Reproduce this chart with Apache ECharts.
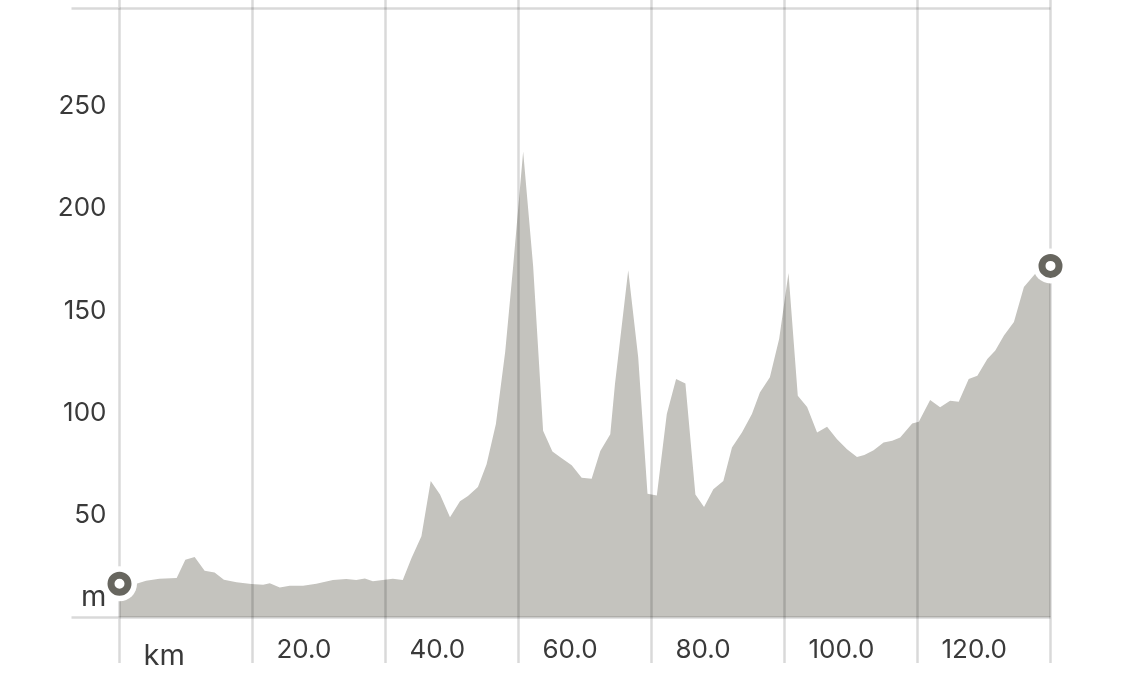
<!DOCTYPE html>
<html>
<head>
<meta charset="utf-8">
<script src="https://cdn.jsdelivr.net/npm/echarts@6/dist/echarts.min.js"></script>
<style>
  html, body { margin: 0; padding: 0; background: #ffffff; overflow: hidden; }
  #chart { width: 1125px; height: 692px; }
</style>
</head>
<body>
<div id="chart"></div>
<script>
// Distance along route (km)
const distanceKm = [0, 2.3, 4.0, 6.0, 8.6, 9.9, 11.3, 12.8, 14.3, 15.7, 17.6, 19.8, 21.6, 22.6, 24.1, 25.6, 27.6, 29.6, 32.1, 34.1, 35.6, 36.9, 38.1, 39.6, 41.1, 42.6, 43.9, 45.4, 46.8, 48.2, 49.7, 51.2, 52.4, 53.9, 55.2, 56.6, 58.0, 59.2, 60.7, 62.2, 63.7, 65.1, 66.5, 68.0, 69.5, 71.0, 72.3, 73.8, 74.5, 76.5, 78.0, 79.4, 80.8, 82.3, 83.7, 85.1, 86.6, 87.9, 89.3, 90.8, 92.1, 93.6, 95.1, 96.3, 97.8, 99.2, 100.6, 102.0, 103.4, 104.9, 106.4, 107.9, 109.4, 110.9, 112.0, 113.4, 114.9, 116.2, 117.4, 119.2, 120.2, 121.9, 123.4, 124.9, 126.2, 127.7, 129.0, 130.5, 131.7, 133.0, 134.5, 136.0, 137.7, 140.0];
// Elevation (m)
const elevationM = [16.5, 16.3, 18, 19, 19.3, 28.3, 29.6, 22.9, 22, 18.5, 17.3, 16.4, 16, 16.7, 14.7, 15.5, 15.5, 16.5, 18.3, 18.8, 18.3, 19.1, 17.7, 18.3, 19, 18.3, 29, 39.8, 66.8, 60.2, 49.1, 56.9, 59.4, 63.8, 75, 94.6, 130, 172, 228, 172, 91.3, 81.2, 77.9, 74.5, 68.4, 67.9, 81.5, 89.7, 114, 169.9, 127.3, 60.5, 59.7, 99.5, 116.7, 114.5, 60.2, 54, 62.7, 66.8, 83.1, 90.5, 99.5, 110.1, 117.5, 136.3, 168.5, 108.5, 103, 90.5, 93.3, 87.2, 82.3, 78.5, 79.5, 81.8, 85.6, 86.4, 88, 94.9, 95.7, 106.4, 102.8, 106, 105.5, 116.7, 118.3, 126.5, 130.6, 138, 144.5, 161.7, 168.2, 172];

// Axis tick labels
const xLabelValues = [0, 20, 40, 60, 80, 100, 120];
const xUnitLabel = 'km';
const yLabelValues = [10, 50, 100, 150, 200, 250];
const yUnitLabel = 'm';

const profile = distanceKm.map((d, i) => [d, elevationM[i]]);
const endpoints = [profile[0], profile[profile.length - 1]];

const gridColor = 'rgba(0,0,0,0.15)';
const textColor = '#3a3a3a';
const fontFam = 'Inter, "Noto Sans", sans-serif';

const chart = echarts.init(document.getElementById('chart'), null, { renderer: 'canvas' });
chart.setOption({
  animation: false,
  backgroundColor: '#ffffff',
  grid: { left: 119.5, right: 74.5, top: 8.3, bottom: 74.5, containLabel: false },
  xAxis: [{
    type: 'value', min: 0, max: 140, interval: 20, z: 4,
    axisLine: { show: false },
    axisTick: { show: true, inside: false, length: 45.5, lineStyle: { color: gridColor, width: 2.5 } },
    splitLine: { show: true, lineStyle: { color: gridColor, width: 2.5 } },
    axisLabel: {
      customValues: xLabelValues,
      align: 'left',
      margin: 20,
      padding: [0, 0, 0, 24],
      color: textColor,
      fontFamily: fontFam,
      fontSize: 26,
      formatter: v => v === 0 ? '{u|' + xUnitLabel + '}' : v.toFixed(1),
      rich: { u: { fontSize: 29, fontFamily: fontFam, color: textColor, padding: [4, 0, 0, 0] } }
    }
  }, {
    type: 'value', position: 'top', min: 0, max: 140, interval: 20, z: 4,
    axisLine: { show: false },
    axisTick: { show: true, inside: false, length: 9, lineStyle: { color: gridColor, width: 2.5 } },
    splitLine: { show: false },
    axisLabel: { show: false }
  }],
  yAxis: {
    type: 'value', min: 0, max: 298, interval: 50, z: 4,
    axisLine: { show: false },
    axisTick: { show: true, inside: false, length: 48, customValues: [0, 298], lineStyle: { color: gridColor, width: 2.5 } },
    splitLine: { show: true, lineStyle: { color: gridColor, width: 2.5 } },
    axisLabel: {
      customValues: yLabelValues,
      margin: 13,
      color: textColor,
      fontFamily: fontFam,
      fontSize: 26,
      formatter: v => v === yLabelValues[0] ? '{u|' + yUnitLabel + '}' : String(v),
      rich: { u: { fontSize: 29, fontFamily: fontFam, color: textColor } }
    }
  },
  series: [{
    type: 'line',
    data: profile,
    z: 1,
    symbol: 'none',
    lineStyle: { width: 0 },
    areaStyle: { color: '#c4c3be', opacity: 1 },
    silent: true
  }, {
    type: 'scatter',
    data: endpoints,
    z: 6,
    clip: false,
    symbol: 'circle',
    symbolSize: 35,
    itemStyle: { color: '#ffffff', opacity: 1 },
    silent: true
  }, {
    type: 'scatter',
    data: endpoints,
    z: 7,
    clip: false,
    symbol: 'circle',
    symbolSize: 17,
    itemStyle: { color: '#ffffff', borderColor: '#67665f', borderWidth: 7, opacity: 1 },
    silent: true
  }]
});
</script>
</body>
</html>
